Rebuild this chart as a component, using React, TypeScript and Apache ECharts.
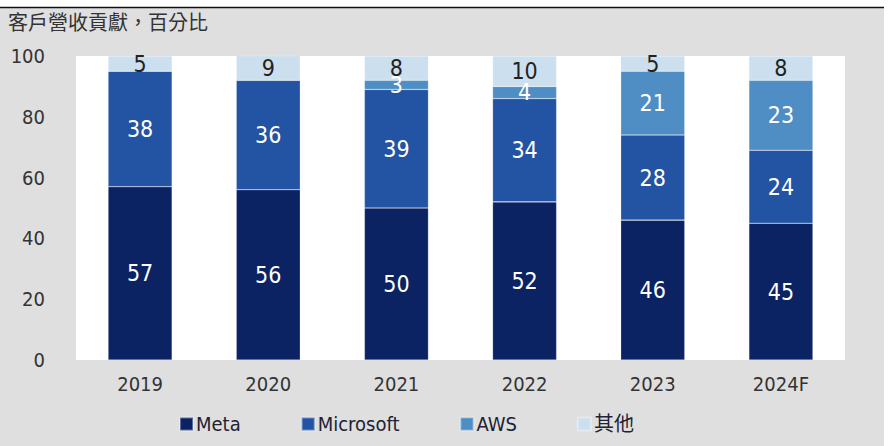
import React, { useEffect, useRef } from "react";
import * as echarts from "echarts";

const categories = ["2019", "2020", "2021", "2022", "2023", "2024F"];
const meta = [57, 56, 50, 52, 46, 45];
const microsoft = [38, 36, 39, 34, 28, 24];
const aws = [0, 0, 3, 4, 21, 23];
const other = [5, 9, 8, 10, 5, 8];
const seriesNames = ["Meta", "Microsoft", "AWS", "其他"];
const yTicks = [0, 20, 40, 60, 80, 100];

const FONT = '"DejaVu Sans Condensed", "Liberation Sans Narrow", "Noto Sans CJK TC", sans-serif';
const colors = ["#0b2263", "#2353a3", "#4e8ec4", "#cbdfee"];
const labelColors = ["#ffffff", "#ffffff", "#ffffff", "#222222"];

export default function App() {
  const ref = useRef<HTMLDivElement>(null);
  useEffect(() => {
    document.body.style.margin = "0";
    const chart = echarts.init(ref.current!, null, { renderer: "svg" });
    const data = [meta, microsoft, aws, other];
    chart.setOption({
      animation: false,
      backgroundColor: "#ffffff",
      textStyle: { fontFamily: FONT },
      graphic: [
        { type: "rect", z: -10, silent: true, shape: { x: 0, y: 8, width: 884, height: 438 }, style: { fill: "#dfdfdf" } },
        { type: "line", z: -9, silent: true, shape: { x1: 0, y1: 7.5, x2: 884, y2: 7.5 }, style: { stroke: "#111111", lineWidth: 1.5 } },
        {
          type: "text",
          left: 8,
          top: 11,
          style: { text: "客戶營收貢獻，百分比", fontSize: 20, fill: "#333333", fontFamily: '"Noto Sans CJK TC", sans-serif' },
        },
      ],
      grid: {
        left: 76,
        right: 45,
        top: 56,
        bottom: 86,
        show: true,
        backgroundColor: "#ffffff",
        borderWidth: 0,
      },
      legend: {
        bottom: 7,
        left: 174,
        itemWidth: 13,
        itemHeight: 13,
        itemGap: 60,
        icon: "rect",
        textStyle: { fontSize: 20, color: "#222233", fontFamily: FONT, padding: [0, 0, 0, -2] },
        data: seriesNames,
      },
      xAxis: {
        type: "category",
        data: categories,
        axisLine: { show: false },
        axisTick: { show: false },
        axisLabel: { fontSize: 20, color: "#333333", margin: 14, fontFamily: FONT },
      },
      yAxis: {
        type: "value",
        min: 0,
        max: 100,
        interval: 20,
        splitLine: { show: false },
        axisLine: { show: false },
        axisTick: { show: false },
        axisLabel: {
          fontSize: 20,
          color: "#333333",
          margin: 31,
          fontFamily: FONT,
          formatter: (v: number) => (yTicks.includes(v) ? String(v) : ""),
        },
      },
      series: seriesNames.map((name, i) => ({
        name,
        type: "bar",
        stack: "total",
        barWidth: "50%",
        clip: true,
        data: data[i],
        itemStyle: { color: colors[i], borderColor: "rgba(255,255,255,0.35)", borderWidth: 0.6 },
        label: {
          show: true,
          position: "inside",
          fontSize: 23,
          color: labelColors[i],
          fontFamily: FONT,
          formatter: (p: any) => (p.value ? String(p.value) : ""),
        },
      })),
    });
    return () => chart.dispose();
  }, []);
  return <div ref={ref} style={{ position: "fixed", left: 0, top: 0, width: 890, height: 446 }} />;
}
